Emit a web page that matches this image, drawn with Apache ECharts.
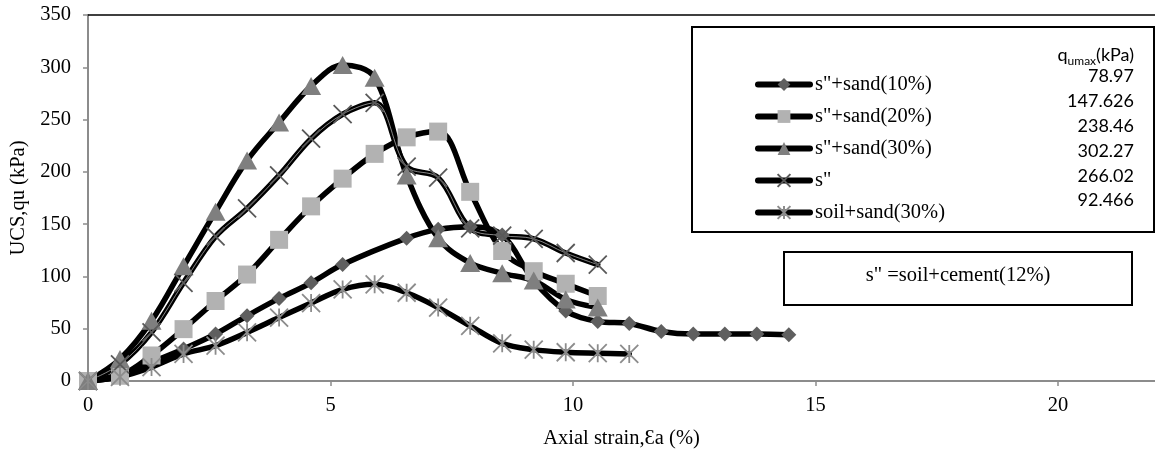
<!DOCTYPE html>
<html>
<head>
<meta charset="utf-8">
<script src="https://cdn.jsdelivr.net/npm/echarts@6/dist/echarts.min.js"></script>
<style>html,body{margin:0;padding:0;background:#fff}#c{width:1155px;height:454px}</style>
</head>
<body>
<div id="c"></div>
<script>
// Axial strain (%) at each reading
const strain = [0,0.66,1.31,1.97,2.63,3.28,3.94,4.6,5.25,5.91,6.57,7.22,7.88,8.54,9.19,9.85,10.51,11.16,11.82,12.48,13.13,13.79,14.45];
// UCS qu (kPa)
const sand10   = [0,6,18,30.6,44.9,62.3,79,93.9,111.3,null,136.6,145,147.6,139.7,95.8,67,57,55,47.4,44.9,44.9,44.9,44.3];
const sand20   = [0,5,24.4,49.6,76.5,101.8,135,167,193.5,217.2,233,238.5,180.9,124.3,105,93,81.3];
const sand30   = [0,21,57.5,109.7,161.9,210.9,247.3,282,302.3,290,196.6,136.6,112.9,103,96,78,70.2];
const sOnly    = [0,16,46.5,93.9,138.2,165,196.6,231.7,255.1,266,205,194.5,146,139,136,122.4,111.3];
const soilSand = [0,4,13.3,25.9,33.8,46.5,60.7,74.5,87.6,92.5,84.4,70.2,52.8,36,30,27.5,26.6,25.9];

const seriesNames = ['s"+sand(10%)','s"+sand(20%)','s"+sand(30%)','s"','soil+sand(30%)'];
const qumax = ['78.97','147.626','238.46','302.27','266.02','92.466'];
const xTicks = {min:0, max:22, interval:5};
const yTicks = {min:0, max:350, interval:50};

function pairs(vals){ return vals.map((v,i)=>[strain[i], v]); }

const SERIF = "Liberation Serif";
const SANS = "Lato";
const CROSS = 'path://M0,0L10,10M10,0L0,10';
const STAR = 'path://M5,0L5,10M0,0L10,10M10,0L0,10';

function lineSeries(name, vals, symbol, size, fill, extra){
  return Object.assign({
    name: name, type:'line', data: pairs(vals), smooth:0.35, connectNulls:true,
    symbol: symbol, symbolSize: size, showAllSymbol:true,
    lineStyle:{color:'#000', width:5.5, cap:'round', join:'round'},
    itemStyle:{color: fill},
    emphasis:{disabled:true}, animation:false
  }, extra||{});
}

const chart = echarts.init(document.getElementById('c'), null, {renderer:'canvas'});
chart.setOption({
  animation:false,
  backgroundColor:'#fff',
  grid:{left:88, top:15, bottom:70, right:-7, containLabel:false},
  xAxis:[{
    type:'value', min:xTicks.min, max:xTicks.max, interval:xTicks.interval,
    name:'Axial strain,Ɛa (%)', nameLocation:'middle', nameGap:47,
    nameTextStyle:{fontFamily:SERIF, fontSize:20.5, color:'#000'},
    axisLine:{show:true, lineStyle:{color:'#8c8c8c', width:2}},
    axisTick:{show:true, length:5, lineStyle:{color:'#8c8c8c', width:1.5}},
    axisLabel:{fontFamily:SERIF, fontSize:20.5, color:'#000', margin:14, showMaxLabel:false},
    splitLine:{show:false}
  },{
    type:'value', position:'top', min:xTicks.min, max:xTicks.max, interval:xTicks.interval,
    axisLine:{show:true, lineStyle:{color:'#000', width:1.5}},
    axisTick:{show:false}, axisLabel:{show:false}, splitLine:{show:false}
  }],
  yAxis:{
    type:'value', min:yTicks.min, max:yTicks.max, interval:yTicks.interval,
    name:'UCS,qu (kPa)', nameLocation:'middle', nameGap:55, nameRotate:90,
    nameTextStyle:{fontFamily:SERIF, fontSize:20.5, color:'#000'},
    axisLine:{show:true, lineStyle:{color:'#8c8c8c', width:2}},
    axisTick:{show:true, length:5, lineStyle:{color:'#8c8c8c', width:1.5}},
    axisLabel:{fontFamily:SERIF, fontSize:20.5, color:'#000', margin:17},
    splitLine:{show:false}
  },
  legend:{
    data: seriesNames, orient:'vertical', left:750, top:69,
    itemWidth:52, itemHeight:16, itemGap:11,
    lineStyle:{width:6, color:'#000', cap:'round'},
    textStyle:{fontFamily:SERIF, fontSize:20.5, color:'#000'},
    selectedMode:false
  },
  series:[
    lineSeries(seriesNames[0], sand10, 'diamond', 15, '#5f5f5f'),
    lineSeries(seriesNames[1], sand20, 'rect', 18, '#b2b2b2'),
    lineSeries(seriesNames[2], sand30, 'triangle', [20,18], '#7f7f7f'),
    lineSeries(seriesNames[3], sOnly, CROSS, 18, '#595959', {itemStyle:{color:'#595959', borderColor:'#595959', borderWidth:1.8}}),
    lineSeries('s" inner', sOnly, 'none', 0, '#a8a8a8', {lineStyle:{color:'#a8a8a8', width:0.8}, silent:true}),
    lineSeries(seriesNames[4], soilSand, STAR, 18, '#8c8c8c', {itemStyle:{color:'#8c8c8c', borderColor:'#8c8c8c', borderWidth:1.8}})
  ],
  graphic:[
    {type:'rect', shape:{x:692, y:27, width:462, height:205}, style:{fill:'none', stroke:'#000', lineWidth:2}, silent:true},
    {type:'rect', shape:{x:784, y:252, width:348, height:53}, style:{fill:'none', stroke:'#000', lineWidth:2}, silent:true},
    {type:'text', x:958, y:276, silent:true, style:{text:'s" =soil+cement(12%)', font:"20.5px "+SERIF, fill:'#000', align:'center', verticalAlign:'middle', textAlign:'center', textVerticalAlign:'middle'}},
    {type:'text', x:1134, y:55, silent:true, style:{
      text:'{a|q}{b|umax}{a|(kPa)}', fill:'#000', align:'right', verticalAlign:'middle', textAlign:'right', textVerticalAlign:'middle',
      rich:{a:{fontFamily:SANS, fontSize:18, lineHeight:24, verticalAlign:'middle'}, b:{fontFamily:SANS, fontSize:12, lineHeight:12, verticalAlign:'bottom'}}
    }},
    ...qumax.map((t,i)=>({type:'text', x:1134, y:[76,101,126,151,176,200][i], silent:true,
      style:{text:t, font:"18px "+SANS, fill:'#000', align:'right', verticalAlign:'middle', textAlign:'right', textVerticalAlign:'middle'}}))
  ]
});
</script>
</body>
</html>
